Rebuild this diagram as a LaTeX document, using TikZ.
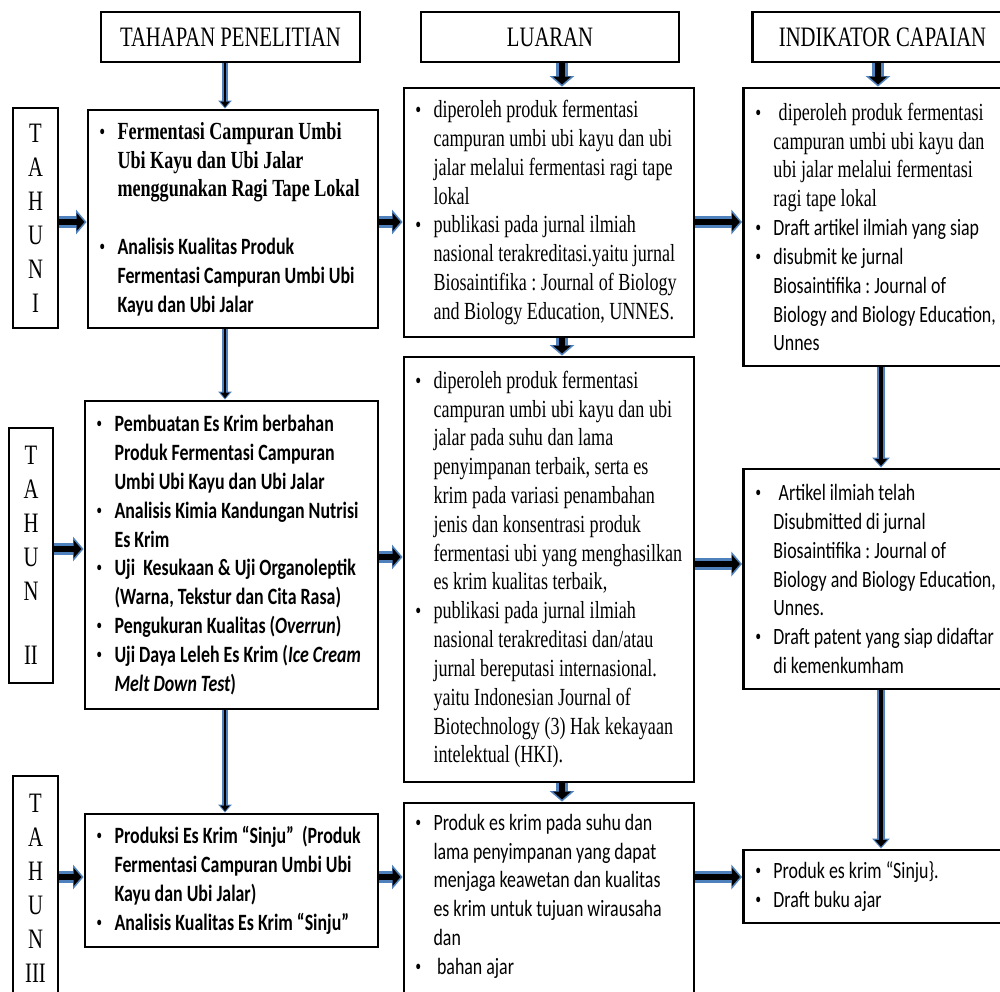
\documentclass[tikz,border=0pt]{standalone}
\usepackage{fontspec}
\setmainfont[FakeStretch=0.735]{Liberation Serif}
\newfontfamily\calfont[FakeStretch=0.765]{Carlito}
\usetikzlibrary{arrows.meta}
\definecolor{arrblue}{RGB}{79,129,189}
\setlength{\parindent}{0pt}
\newcommand{\serf}{\fontsize{14}{16.4}\selectfont\frenchspacing\spaceskip=0pt\xspaceskip=0pt}
\newcommand{\sanf}{\calfont\fontsize{13.3}{16.4}\selectfont\frenchspacing\spaceskip=0pt\xspaceskip=0pt}
\newcommand{\sanb}{\sanf\bfseries}
\newcommand{\bul}{\makebox[10.3pt][l]{\normalfont\fontsize{13}{16.4}\selectfont\textbullet}}
\newcommand{\ind}{\hspace*{10.3pt}}

\begin{document}
\begin{tikzpicture}[x=0.2mm, y=-0.2mm,
  box/.style={draw, line width=1.6pt, inner sep=0pt},
  head/.style={box, minimum height=10mm, font=\fontsize{16}{19}\selectfont},
  thnbox/.style={box, minimum width=9mm, align=center, font=\fontsize{16}{19.3}\selectfont},
  txt/.style={inner sep=0pt, text width=80mm, align=flush left, anchor=west, font=\serf,
    execute at begin node=\serf},
  fatarrow/.style={black, line width=3.4pt, shorten >=1.2pt, -{Triangle[length=4.5pt, width=10pt]},
    preaction={draw=arrblue, line width=6.3pt, shorten >=0pt, -{Triangle[length=6pt, width=13.7pt]}}},
  midarrow/.style={black, line width=2.6pt, shorten >=1pt, -{Triangle[length=4pt, width=6.8pt]},
    preaction={draw=arrblue, line width=5pt, shorten >=0pt, -{Triangle[length=5.7pt, width=9.7pt]}}},
  thinarrow/.style={black, line width=1.4pt, shorten >=0.8pt, -{Triangle[length=3.2pt, width=5pt]},
    preaction={draw=arrblue, line width=3.4pt, shorten >=0pt, -{Triangle[length=4.5pt, width=7.4pt]}}}]
\useasboundingbox (0,0) rectangle (1000,991);
\clip (0,0) rectangle (1000,991);

\node[head, minimum width=51.8mm] (hTahap) at (230.5,37) {TAHAPAN PENELITIAN};
\node[head, minimum width=51.6mm] (hLuaran) at (550,37) {LUARAN};
\node[head, minimum width=52mm] (hIndik) at (882.5,37) {INDIKATOR CAPAIAN};

\node[thnbox, minimum height=44mm] (thn1) at (35.5,218) {T\\A\\H\\U\\N\\I};
\node[thnbox, minimum width=8.8mm, minimum height=51mm] (thn2) at (31,555.5) {T\\A\\H\\U\\N\\[17pt]II};
\node[thnbox, minimum height=44.8mm] (thn3) at (35.5,888) {T\\A\\H\\U\\N\\III};

\node[box, minimum width=58mm, minimum height=43.6mm] (tahap1) at (233,219) {};
\node[box, minimum width=58.6mm, minimum height=61.6mm] (tahap2) at (231.5,555) {};
\node[box, minimum width=58.6mm, minimum height=26.6mm] (tahap3) at (231.5,880.5) {};

\node[box, minimum width=58mm, minimum height=49.8mm] (luaran1) at (549,212.5) {};
\node[box, minimum width=58mm, minimum height=85mm] (luaran2) at (549,569.5) {};
\node[box, minimum width=58mm, minimum height=40mm] (luaran3) at (549,903) {};

\node[box, anchor=west, minimum width=54.6mm, minimum height=55.6mm] (indik1) at (742,227) {};
\node[box, anchor=west, minimum width=54.6mm, minimum height=44mm] (indik2) at (742,579) {};
\node[box, anchor=west, minimum width=54.6mm, minimum height=14.6mm] (indik3) at (742,886.5) {};

\node[txt] (tahap1t) at ([xshift=2.5mm]tahap1.west) {\bfseries\bul Fermentasi Campuran Umbi\\ \ind Ubi Kayu dan Ubi Jalar\\ \ind menggunakan Ragi Tape Lokal\\[16.4pt] \sanb\bul Analisis Kualitas Produk\\ \ind Fermentasi Campuran Umbi Ubi\\ \ind Kayu dan Ubi Jalar};
\node[txt] (tahap2t) at ([xshift=2.5mm]tahap2.west) {\sanb\bul Pembuatan Es Krim berbahan\\ \ind Produk Fermentasi Campuran\\ \ind Umbi Ubi Kayu dan Ubi Jalar\\ \bul Analisis Kimia Kandungan Nutrisi\\ \ind Es Krim\\ \bul Uji\ \ Kesukaan \& Uji Organoleptik\\ \ind (Warna, Tekstur dan Cita Rasa)\\ \bul Pengukuran Kualitas (\textit{Overrun})\\ \bul Uji Daya Leleh Es Krim (\textit{Ice Cream}\\ \ind \textit{Melt Down Test})};
\node[txt] (tahap3t) at ([xshift=2.5mm]tahap3.west) {\sanb\bul Produksi Es Krim “Sinju”\ \ (Produk\\ \ind Fermentasi Campuran Umbi Ubi\\ \ind Kayu dan Ubi Jalar)\\ \bul Analisis Kualitas Es Krim “Sinju”};

\node[txt] (luaran1t) at ([xshift=2.5mm]luaran1.west) {\bul diperoleh produk fermentasi\\ \ind campuran umbi ubi kayu dan ubi\\ \ind jalar melalui fermentasi ragi tape\\ \ind lokal\\ \bul publikasi pada jurnal ilmiah\\ \ind nasional terakreditasi.yaitu jurnal\\ \ind Biosaintifika : Journal of Biology\\ \ind and Biology Education, UNNES.};
\node[txt] (luaran2t) at ([xshift=2.5mm]luaran2.west) {\bul diperoleh produk fermentasi\\ \ind campuran umbi ubi kayu dan ubi\\ \ind jalar pada suhu dan lama\\ \ind penyimpanan terbaik, serta es\\ \ind krim pada variasi penambahan\\ \ind jenis dan konsentrasi produk\\ \ind fermentasi ubi yang menghasilkan\\ \ind es krim kualitas terbaik,\\ \bul publikasi pada jurnal ilmiah\\ \ind nasional terakreditasi dan/atau\\ \ind jurnal bereputasi internasional.\\ \ind yaitu Indonesian Journal of\\ \ind Biotechnology (3) Hak kekayaan\\ \ind intelektual (HKI).};
\node[txt, anchor=north west] (luaran3t) at ([xshift=2.5mm, yshift=-2.4mm]luaran3.north west) {\sanf\bul Produk es krim pada suhu dan\\ \ind lama penyimpanan yang dapat\\ \ind menjaga keawetan dan kualitas\\ \ind es krim untuk tujuan wirausaha\\ \ind dan\\ \bul\hspace{2pt}bahan ajar};

\node[txt] (indik1t) at ([xshift=2.6mm]indik1.west) {\bul\hspace{3pt}diperoleh produk fermentasi\\ \ind campuran umbi ubi kayu dan\\ \ind ubi jalar melalui fermentasi\\ \ind ragi tape lokal\\ \sanf\bul Draft artikel ilmiah yang siap\\ \bul disubmit ke jurnal\\ \ind Biosaintifika : Journal of\\ \ind Biology and Biology Education,\\ \ind Unnes};
\node[txt] (indik2t) at ([xshift=2.6mm]indik2.west) {\sanf\bul\hspace{3pt}Artikel ilmiah telah\\ \ind Disubmitted di jurnal\\ \ind Biosaintifika : Journal of\\ \ind Biology and Biology Education,\\ \ind Unnes.\\ \bul Draft patent yang siap didaftar\\ \ind di kemenkumham};
\node[txt] (indik3t) at ([xshift=2.6mm]indik3.west) {\sanf\bul Produk es krim “Sinju\}.\\ \bul Draft buku ajar};

\foreach \a/\b in {hTahap/tahap1, tahap1/tahap2, tahap2/tahap3}
  \draw[thinarrow] (\a.south -| 225,0) -- (\b.north -| 225,0);
\foreach \a/\b in {hLuaran/luaran1, luaran1/luaran2, luaran2/luaran3}
  \draw[fatarrow] (\a.south -| 562,0) -- (\b.north -| 562,0);
\draw[fatarrow] (hIndik.south -| 878,0) -- (indik1.north -| 878,0);
\foreach \a/\b in {indik1/indik2, indik2/indik3}
  \draw[midarrow] (\a.south -| 881,0) -- (\b.north -| 881,0);
\foreach \a/\b/\y in {thn1/tahap1/222, tahap1/luaran1/222, luaran1/indik1/222,
    thn2/tahap2/549, tahap2/luaran2/557, luaran2/indik2/564,
    thn3/tahap3/877, tahap3/luaran3/877, luaran3/indik3/877}
  \draw[fatarrow] (\a.east |- 0,\y) -- (\b.west |- 0,\y);
\end{tikzpicture}
\end{document}
